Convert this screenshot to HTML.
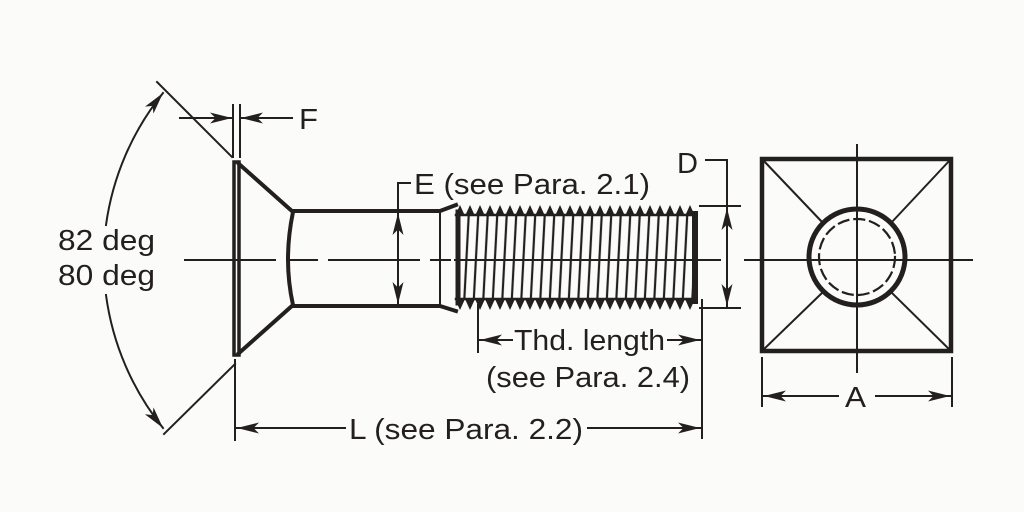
<!DOCTYPE html>
<html><head><meta charset="utf-8"><style>
html,body{margin:0;padding:0;background:#fbfbf9;}
svg{display:block}
text{font-family:"Liberation Sans",sans-serif;fill:#231f20;}
</style></head><body>
<svg width="1024" height="512" viewBox="0 0 1024 512" xmlns="http://www.w3.org/2000/svg">
<defs>
<marker id="ar" viewBox="0 0 20 10" refX="20" refY="5" markerWidth="22" markerHeight="11" markerUnits="userSpaceOnUse" orient="auto-start-reverse">
<path d="M0,0 L20,5 L0,10 L5,5 Z" fill="#231f20"/></marker>
<pattern id="zt" x="455" y="204" width="10" height="12" patternUnits="userSpaceOnUse">
<path d="M0,12 L5,1 L10,12 Z" fill="#231f20"/></pattern>
<pattern id="zb" x="455" y="299" width="10" height="12" patternUnits="userSpaceOnUse">
<path d="M0,0 L5,11 L10,0 Z" fill="#231f20"/></pattern>
<pattern id="sl" x="458" y="0" width="9.5" height="100" patternUnits="userSpaceOnUse" patternTransform="skewX(-3)">
<line x1="3" y1="0" x2="3" y2="100" stroke="#231f20" stroke-width="2.2"/></pattern>
</defs>
<g stroke="#231f20" fill="none" stroke-linecap="square">
<line x1="185" y1="260" x2="450" y2="260" stroke-width="2" stroke-dasharray="90,12,30,12"/>
<line x1="455" y1="260" x2="720" y2="260" stroke-width="2"/>
<line x1="745" y1="260" x2="972" y2="260" stroke-width="2"/>
<line x1="857" y1="145" x2="857" y2="372" stroke-width="2"/>
<rect x="234" y="162" width="5" height="193" stroke-width="3.5"/>
<path d="M239,164 L293,212 Q283,260 293,305 L239,353" stroke-width="4"/>
<path d="M293,211 L440,211 L456,205 M293,306 L440,306 L456,311" stroke-width="4"/>
<line x1="440" y1="211" x2="440" y2="306" stroke-width="2"/>
<rect x="458" y="214" width="238" height="86" fill="url(#sl)" stroke="none"/>
<rect x="455" y="204" width="240" height="12" fill="url(#zt)" stroke="none"/>
<rect x="455" y="299" width="240" height="12" fill="url(#zb)" stroke="none"/>
<line x1="456" y1="215" x2="695" y2="215" stroke-width="2.5"/>
<line x1="456" y1="299" x2="695" y2="299" stroke-width="2.5"/>
<line x1="458" y1="212" x2="458" y2="303" stroke-width="5"/>
<line x1="695" y1="214" x2="695" y2="301" stroke-width="6"/>
<line x1="398" y1="213" x2="398" y2="304" stroke-width="2" marker-start="url(#ar)" marker-end="url(#ar)"/>
<path d="M398,213 L398,183 L410,183" stroke-width="2"/>
<line x1="700" y1="206" x2="740" y2="206" stroke-width="2"/>
<line x1="700" y1="308" x2="740" y2="308" stroke-width="2"/>
<line x1="727" y1="208" x2="727" y2="306" stroke-width="2" marker-start="url(#ar)" marker-end="url(#ar)"/>
<path d="M706,160 L727,160 L727,206" stroke-width="2"/>
<line x1="478" y1="305" x2="478" y2="352" stroke-width="2"/>
<line x1="702" y1="300" x2="702" y2="438" stroke-width="2"/>
<line x1="480" y1="340" x2="512" y2="340" stroke-width="2" marker-start="url(#ar)"/>
<line x1="668" y1="340" x2="700" y2="340" stroke-width="2" marker-end="url(#ar)"/>
<line x1="235" y1="360" x2="235" y2="440" stroke-width="2"/>
<line x1="237" y1="428" x2="345" y2="428" stroke-width="2" marker-start="url(#ar)"/>
<line x1="588" y1="428" x2="700" y2="428" stroke-width="2" marker-end="url(#ar)"/>
<line x1="233" y1="105" x2="233" y2="157" stroke-width="2"/>
<line x1="240" y1="105" x2="240" y2="157" stroke-width="2"/>
<line x1="180" y1="118" x2="232" y2="118" stroke-width="2" marker-end="url(#ar)"/>
<line x1="292" y1="118" x2="241" y2="118" stroke-width="2" marker-end="url(#ar)"/>
<line x1="157" y1="82" x2="232" y2="157" stroke-width="2"/>
<line x1="235" y1="364" x2="164" y2="434" stroke-width="2"/>
<path d="M163,93 A269,269 0 0,0 106,225" stroke-width="2" marker-start="url(#ar)"/>
<path d="M106,295 A269,269 0 0,0 163,428" stroke-width="2" marker-end="url(#ar)"/>
<rect x="762" y="159" width="189" height="192" stroke-width="4.5"/>
<path d="M762,159 L823,223 M951,159 L891,223 M762,351 L823,292 M951,351 L891,292" stroke-width="2"/>
<circle cx="857" cy="257" r="48" stroke-width="5"/>
<circle cx="857" cy="257" r="38" stroke-width="2.2" stroke-dasharray="10,6"/>
<line x1="762" y1="358" x2="762" y2="406" stroke-width="2"/>
<line x1="952" y1="358" x2="952" y2="406" stroke-width="2"/>
<line x1="764" y1="396" x2="838" y2="396" stroke-width="2" marker-start="url(#ar)"/>
<line x1="876" y1="396" x2="950" y2="396" stroke-width="2" marker-end="url(#ar)"/>
</g>
<g font-size="29">
<text x="299" y="129" textLength="19" lengthAdjust="spacingAndGlyphs">F</text>
<text x="414" y="194" textLength="236" lengthAdjust="spacingAndGlyphs">E (see Para. 2.1)</text>
<text x="677" y="173" textLength="21" lengthAdjust="spacingAndGlyphs">D</text>
<text x="58" y="250" textLength="97" lengthAdjust="spacingAndGlyphs">82 deg</text>
<text x="58" y="285" textLength="97" lengthAdjust="spacingAndGlyphs">80 deg</text>
<text x="514" y="350" textLength="151" lengthAdjust="spacingAndGlyphs">Thd. length</text>
<text x="486" y="387" textLength="204" lengthAdjust="spacingAndGlyphs">(see Para. 2.4)</text>
<text x="349" y="439" textLength="234" lengthAdjust="spacingAndGlyphs">L (see Para. 2.2)</text>
<text x="845" y="407" textLength="21" lengthAdjust="spacingAndGlyphs">A</text>
</g>
</svg>
</body></html>
